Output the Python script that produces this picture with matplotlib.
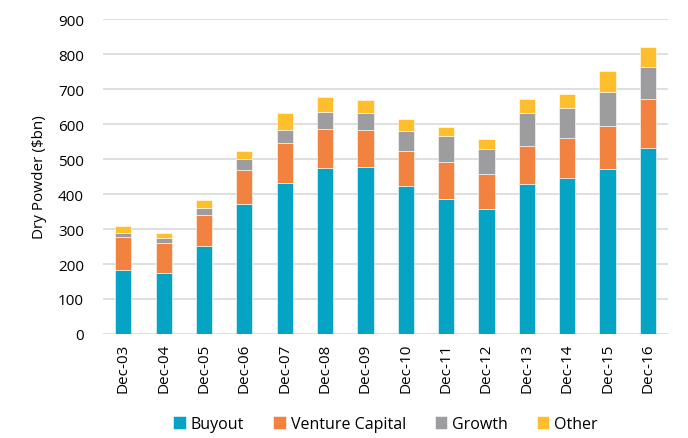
import matplotlib
matplotlib.use("Agg")
import matplotlib.pyplot as plt
import numpy as np

plt.rcParams['font.family'] = ['Open Sans', 'DejaVu Sans']

# dry powder by strategy, $bn
years = ["Dec-03", "Dec-04", "Dec-05", "Dec-06", "Dec-07", "Dec-08", "Dec-09",
         "Dec-10", "Dec-11", "Dec-12", "Dec-13", "Dec-14", "Dec-15", "Dec-16"]
buyout = [183, 174, 252, 372, 433, 475, 476, 422, 386, 357, 429, 446, 471, 532]
venture = [95, 87, 89, 98, 112, 111, 106, 102, 105, 99, 107, 113, 124, 140]
growth = [11, 12, 19, 29, 39, 49, 50, 57, 74, 73, 95, 86, 97, 91]
other = [19, 15, 23, 25, 47, 42, 38, 33, 26, 28, 40, 41, 59, 57]

series = [("Buyout", buyout, "#05a3c4"),
          ("Venture Capital", venture, "#f1823f"),
          ("Growth", growth, "#9d9d9f"),
          ("Other", other, "#ffbe2b")]

fig = plt.figure(figsize=(6.88, 4.39), dpi=100)
ax = fig.add_axes([0.150, 0.237, 0.821, 0.717])

x = np.arange(len(years))
bottom = np.zeros(len(years))
for name, vals, col in series:
    ax.bar(x, vals, 0.4, bottom=bottom, color=col, label=name,
           edgecolor="#ffffff", linewidth=0.4, zorder=3)
    bottom += np.array(vals)

ax.set_ylim(0, 900)
ax.set_xlim(-0.5, len(years) - 0.5)
ax.set_yticks(range(0, 901, 100))
ax.set_xticks(x)
ax.set_xticklabels(years, rotation=90, fontsize=11)
ax.tick_params(axis="y", labelsize=11, length=0, pad=14)
ax.tick_params(axis="x", length=0, pad=6)
ax.yaxis.grid(True, color="#d9d9d9", linewidth=1.2, zorder=0)
for s in ax.spines.values():
    s.set_visible(False)

ax.set_ylabel("Dry Powder ($bn)", fontsize=11, labelpad=8)

ax.legend(loc="center", bbox_to_anchor=(0.5, -0.286), ncol=4,
          frameon=False, fontsize=11.5, handlelength=0.8, handleheight=0.8,
          handletextpad=0.3, columnspacing=1.8)

fig.savefig("out.png", dpi=100)
